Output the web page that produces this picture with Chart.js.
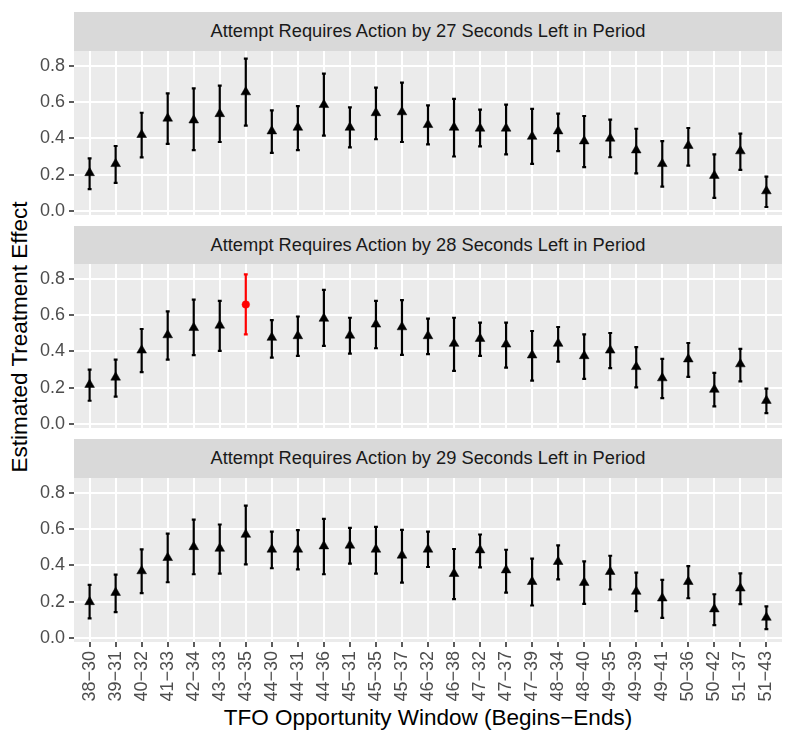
<!DOCTYPE html>
<html lang="en">
<head>
    <meta charset="UTF-8">
    <title>Estimated Treatment Effect by TFO Opportunity Window</title>
    <style>
        body {
            margin: 0;
            background: #fff;
            font-family: "Liberation Sans", Arial, sans-serif;
        }
        #fig {
            position: relative;
            width: 793px;
            height: 742px;
            background: #fff;
            overflow: hidden;
        }
        .strip {
            position: absolute;
            left: 74px;
            width: 708px;
            background: #D9D9D9;
            color: #1A1A1A;
            font-size: 18.3px;
            display: flex;
            align-items: center;
            justify-content: center;
            white-space: nowrap;
        }
        .panel {
            position: absolute;
            left: 0;
            width: 793px;
        }
        .axis-title {
            position: absolute;
            color: #000;
            font-size: 22.5px;
            white-space: nowrap;
        }
    </style>
    <script src="https://cdn.jsdelivr.net/npm/chart.js"></script>
</head>
<body>
    <div id="fig">
        <div class="axis-title" style="left:19.5px; top:337px; transform:translate(-50%,-50%) rotate(-90deg);">Estimated Treatment Effect</div>
        <div class="axis-title" style="left:428px; top:718px; transform:translate(-50%,-50%);">TFO Opportunity Window (Begins−Ends)</div>
    </div>

    <script>
        // Data
        const categories = ['38−30', '39−31', '40−32', '41−33', '42−34', '43−33', '43−35', '44−30', '44−31',
            '44−36', '45−31', '45−35', '45−37', '46−32', '46−38', '47−32', '47−37', '47−39', '48−34',
            '48−40', '49−35', '49−39', '49−41', '50−36', '50−42', '51−37', '51−43'];

        const panelTitles = [
            'Attempt Requires Action by 27 Seconds Left in Period',
            'Attempt Requires Action by 28 Seconds Left in Period',
            'Attempt Requires Action by 29 Seconds Left in Period'
        ];

        const est27 = [0.21, 0.26, 0.42, 0.51, 0.50, 0.535, 0.655, 0.44, 0.46, 0.585, 0.46, 0.54, 0.545, 0.475,
            0.46, 0.455, 0.455, 0.41, 0.44, 0.385, 0.40, 0.335, 0.26, 0.36, 0.195, 0.33, 0.11];
        const lo27 = [0.12, 0.155, 0.295, 0.37, 0.335, 0.38, 0.47, 0.32, 0.335, 0.415, 0.35, 0.395, 0.38, 0.367,
            0.30, 0.356, 0.312, 0.26, 0.33, 0.242, 0.296, 0.207, 0.134, 0.25, 0.072, 0.226, 0.022];
        const hi27 = [0.29, 0.358, 0.541, 0.648, 0.675, 0.69, 0.839, 0.554, 0.578, 0.756, 0.571, 0.679, 0.707, 0.582,
            0.617, 0.558, 0.586, 0.562, 0.536, 0.523, 0.503, 0.453, 0.385, 0.457, 0.312, 0.426, 0.189];

        const est28 = [0.217, 0.257, 0.406, 0.49, 0.53, 0.543, 0.658, 0.476, 0.485, 0.581, 0.488, 0.549, 0.534, 0.485,
            0.443, 0.47, 0.439, 0.379, 0.443, 0.375, 0.406, 0.315, 0.253, 0.357, 0.19, 0.33, 0.129];
        const lo28 = [0.128, 0.151, 0.286, 0.354, 0.379, 0.403, 0.494, 0.366, 0.375, 0.43, 0.388, 0.417, 0.381, 0.385,
            0.293, 0.375, 0.31, 0.239, 0.344, 0.248, 0.308, 0.202, 0.142, 0.259, 0.097, 0.235, 0.06];
        const hi28 = [0.299, 0.354, 0.523, 0.62, 0.685, 0.678, 0.824, 0.572, 0.592, 0.738, 0.585, 0.678, 0.682, 0.58,
            0.585, 0.558, 0.558, 0.512, 0.534, 0.494, 0.501, 0.423, 0.359, 0.446, 0.282, 0.414, 0.195];

        const est29 = [0.199, 0.25, 0.369, 0.442, 0.502, 0.493, 0.57, 0.488, 0.488, 0.506, 0.51, 0.488, 0.455, 0.488,
            0.354, 0.484, 0.374, 0.31, 0.42, 0.305, 0.365, 0.256, 0.219, 0.31, 0.159, 0.274, 0.113];
        const lo29 = [0.108, 0.142, 0.247, 0.307, 0.351, 0.354, 0.405, 0.384, 0.378, 0.351, 0.409, 0.354, 0.305, 0.391,
            0.214, 0.389, 0.25, 0.179, 0.323, 0.188, 0.267, 0.148, 0.111, 0.219, 0.071, 0.186, 0.049];
        const hi29 = [0.292, 0.349, 0.488, 0.575, 0.652, 0.625, 0.729, 0.586, 0.594, 0.656, 0.606, 0.612, 0.595, 0.586,
            0.49, 0.57, 0.486, 0.437, 0.51, 0.422, 0.453, 0.36, 0.32, 0.396, 0.241, 0.356, 0.174];

        // the one estimate shown as a red dot (panel for 28 seconds, window 43-35)
        const highlightPanel = 1;
        const highlightCategory = '43−35';

        const yMajor = [0, 0.2, 0.4, 0.6, 0.8];
        const yMinor = [0.1, 0.3, 0.5, 0.7];

        const panels = [
            { title: panelTitles[0], est: est27, lo: lo27, hi: hi27 },
            { title: panelTitles[1], est: est28, lo: lo28, hi: hi28 },
            { title: panelTitles[2], est: est29, lo: lo29, hi: hi29 }
        ];

        // Layout (pixels)
        const stripTops = [12, 225.5, 439];
        const stripHeight = 38.5;
        const plotHeight = 164;
        const margin = 12;

        Chart.defaults.font.family = '"Liberation Sans", Arial, sans-serif';
        Chart.defaults.animation = false;

        const isMajor = v => yMajor.some(m => Math.abs(m - v) < 1e-6);

        // gray panel background like ggplot
        const panelBackground = {
            id: 'panelBackground',
            beforeDraw(chart) {
                const { ctx, chartArea: a } = chart;
                ctx.save();
                ctx.fillStyle = '#EBEBEB';
                ctx.fillRect(a.left, a.top, a.right - a.left, a.bottom - a.top);
                ctx.restore();
            }
        };

        // vertical error bars with small caps
        const errorBars = {
            id: 'errorBars',
            beforeDatasetsDraw(chart) {
                const { ctx, scales: { x, y } } = chart;
                const ds = chart.data.datasets[0];
                const hl = ds.highlight;
                ctx.save();
                ctx.lineWidth = 2.2;
                ds.data.forEach((p, i) => {
                    const px = x.getPixelForValue(p.x);
                    const half = (x.getPixelForValue(1) - x.getPixelForValue(0)) * 0.075;
                    const top = y.getPixelForValue(p.hi);
                    const bot = y.getPixelForValue(p.lo);
                    ctx.strokeStyle = i === hl ? '#FF0000' : '#000';
                    ctx.beginPath();
                    ctx.moveTo(px, top);
                    ctx.lineTo(px, bot);
                    ctx.moveTo(px - half, top);
                    ctx.lineTo(px + half, top);
                    ctx.moveTo(px - half, bot);
                    ctx.lineTo(px + half, bot);
                    ctx.stroke();
                });
                ctx.restore();
            }
        };

        const fig = document.getElementById('fig');

        panels.forEach((panel, k) => {
            const last = k === panels.length - 1;
            const plotTop = stripTops[k] + stripHeight;

            const strip = document.createElement('div');
            strip.className = 'strip';
            strip.style.top = stripTops[k] + 'px';
            strip.style.height = stripHeight + 'px';
            strip.textContent = panel.title;
            fig.appendChild(strip);

            const wrap = document.createElement('div');
            wrap.className = 'panel';
            const wrapTop = plotTop - margin;
            const wrapHeight = last ? 742 - wrapTop : plotHeight + 2 * margin;
            wrap.style.top = wrapTop + 'px';
            wrap.style.height = wrapHeight + 'px';
            const canvas = document.createElement('canvas');
            wrap.appendChild(canvas);
            fig.appendChild(wrap);

            const hl = k === highlightPanel ? categories.indexOf(highlightCategory) : -1;
            const points = categories.map((c, i) => ({ x: i, y: panel.est[i], lo: panel.lo[i], hi: panel.hi[i] }));

            new Chart(canvas, {
                type: 'scatter',
                data: {
                    datasets: [{
                        data: points,
                        highlight: hl,
                        pointStyle: ctx => ctx.dataIndex === hl ? 'circle' : 'triangle',
                        pointRadius: ctx => ctx.dataIndex === hl ? 3.8 : 5.6,
                        pointBackgroundColor: ctx => ctx.dataIndex === hl ? '#FF0000' : '#000',
                        pointBorderColor: ctx => ctx.dataIndex === hl ? '#FF0000' : '#000',
                        pointBorderWidth: 0.5,
                        showLine: false
                    }]
                },
                options: {
                    responsive: true,
                    maintainAspectRatio: false,
                    layout: { padding: { left: 0, right: 11, top: margin, bottom: last ? 0 : margin } },
                    plugins: { legend: { display: false }, tooltip: { enabled: false } },
                    scales: {
                        x: {
                            type: 'linear',
                            min: -0.6,
                            max: categories.length - 0.4,
                            afterBuildTicks: s => { s.ticks = categories.map((c, i) => ({ value: i })); },
                            afterFit: s => {
                                s.height = last ? wrapHeight - margin - plotHeight : 0;
                                s.paddingLeft = 0;
                                s.paddingRight = 0;
                            },
                            border: { display: false },
                            grid: {
                                color: '#FFFFFF',
                                lineWidth: 2,
                                drawTicks: last,
                                tickLength: 5,
                                tickWidth: 1.6,
                                tickColor: '#333333'
                            },
                            ticks: {
                                display: last,
                                autoSkip: false,
                                minRotation: 90,
                                maxRotation: 90,
                                padding: 4,
                                color: '#4D4D4D',
                                font: { size: 18 },
                                callback: v => categories[v]
                            }
                        },
                        y: {
                            min: -0.022,
                            max: 0.881,
                            afterBuildTicks: s => {
                                s.ticks = yMajor.concat(yMinor).sort((a, b) => a - b).map(v => ({ value: v }));
                            },
                            afterFit: s => {
                                s.width = 74;
                                s.paddingTop = 0;
                                s.paddingBottom = 0;
                            },
                            border: { display: false },
                            grid: {
                                color: '#FFFFFF',
                                lineWidth: ctx => isMajor(ctx.tick.value) ? 2 : 1,
                                tickLength: 5,
                                tickWidth: 1.6,
                                tickColor: ctx => isMajor(ctx.tick.value) ? '#333333' : 'rgba(0,0,0,0)'
                            },
                            ticks: {
                                padding: 4,
                                color: '#4D4D4D',
                                font: { size: 18 },
                                callback: v => isMajor(v) ? v.toFixed(1) : ''
                            }
                        }
                    }
                },
                plugins: [panelBackground, errorBars]
            });
        });
    </script>
</body>
</html>
